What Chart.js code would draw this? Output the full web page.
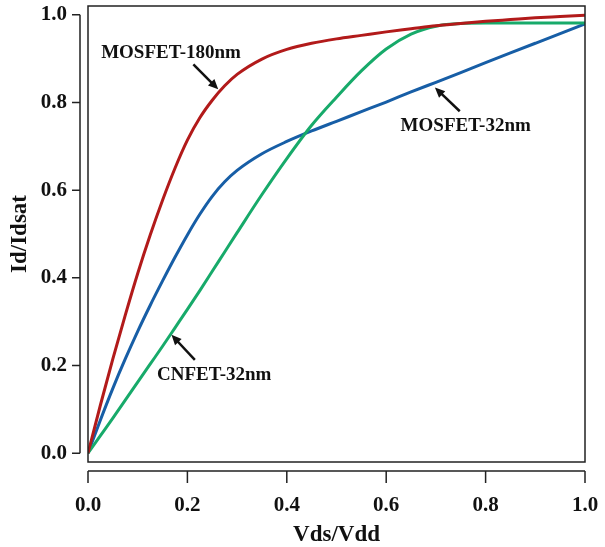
<!DOCTYPE html>
<html>
<head>
<meta charset="utf-8">
<script src="https://cdn.jsdelivr.net/npm/chart.js@4.4.1/dist/chart.umd.min.js"></script>
<style>
  body { margin: 0; background: #fff; }
  canvas { display: block; }
</style>
</head>
<body>
<canvas id="ivChart" width="605" height="547"></canvas>
<script>
// Vds/Vdd sample points and normalised drain current for each device
const vds = [0, 0.025, 0.05, 0.075, 0.1, 0.125, 0.15, 0.175, 0.2, 0.225, 0.25, 0.275, 0.3,
             0.35, 0.4, 0.45, 0.5, 0.55, 0.6, 0.65, 0.7, 0.75, 0.8, 0.85, 0.9, 0.95, 1.0];
const mosfet180 = [0, 0.110, 0.215, 0.315, 0.410, 0.497, 0.577, 0.650, 0.714, 0.765, 0.805, 0.838, 0.864,
                   0.899, 0.921, 0.935, 0.945, 0.953, 0.961, 0.968, 0.975, 0.980, 0.985, 0.989, 0.993, 0.996, 0.999];
const mosfet32 = [0, 0.076, 0.148, 0.215, 0.278, 0.337, 0.393, 0.447, 0.498, 0.545, 0.586, 0.619, 0.645,
                  0.683, 0.711, 0.735, 0.757, 0.779, 0.801, 0.824, 0.846, 0.868, 0.891, 0.913, 0.935, 0.957, 0.979];
const cnfet32 = [0, 0.040, 0.080, 0.121, 0.162, 0.203, 0.244, 0.286, 0.328, 0.371, 0.415, 0.459, 0.503,
                 0.590, 0.672, 0.748, 0.812, 0.872, 0.922, 0.956, 0.974, 0.980, 0.981, 0.981, 0.981, 0.981, 0.981];
const xTicks = [0, 0.2, 0.4, 0.6, 0.8, 1.0];
const yTicks = [0, 0.2, 0.4, 0.6, 0.8, 1.0];

const serif = "'Liberation Serif', 'Times New Roman', serif";

function pts(ys) {
    return vds.map((x, i) => ({ x: x, y: ys[i] }));
}

// labels with arrows, in data units
const notes = [
    { text: 'MOSFET-180nm', x: 0.167, y: 0.902, from: [0.212, 0.887], to: [0.262, 0.830] },
    { text: 'MOSFET-32nm', x: 0.760, y: 0.735, from: [0.748, 0.780], to: [0.698, 0.834] },
    { text: 'CNFET-32nm', x: 0.254, y: 0.167, from: [0.215, 0.213], to: [0.168, 0.270] }
];

// R-style frame: box round the plot plus detached axes with outward ticks
const frame = {
    id: 'frame',
    afterDraw(chart) {
        const ctx = chart.ctx;
        const a = chart.chartArea;
        const xs = chart.scales.x, ys = chart.scales.y;
        ctx.save();
        ctx.strokeStyle = '#222';
        ctx.lineWidth = 1.5;
        ctx.strokeRect(a.left, a.top, a.right - a.left, a.bottom - a.top);

        const ax = a.left - 8;
        ctx.beginPath();
        ctx.moveTo(ax, ys.getPixelForValue(yTicks[0]));
        ctx.lineTo(ax, ys.getPixelForValue(yTicks[yTicks.length - 1]));
        yTicks.forEach(v => {
            const p = ys.getPixelForValue(v);
            ctx.moveTo(ax, p);
            ctx.lineTo(ax - 8, p);
        });
        const ay = a.bottom + 9;
        ctx.moveTo(xs.getPixelForValue(xTicks[0]), ay);
        ctx.lineTo(xs.getPixelForValue(xTicks[xTicks.length - 1]), ay);
        xTicks.forEach(v => {
            const p = xs.getPixelForValue(v);
            ctx.moveTo(p, ay);
            ctx.lineTo(p, ay + 12);
        });
        ctx.stroke();

        // annotations
        ctx.fillStyle = '#111';
        ctx.strokeStyle = '#111';
        ctx.font = 'bold 19px ' + serif;
        ctx.textAlign = 'center';
        ctx.textBaseline = 'alphabetic';
        notes.forEach(n => {
            ctx.fillText(n.text, xs.getPixelForValue(n.x), ys.getPixelForValue(n.y));
            const x0 = xs.getPixelForValue(n.from[0]), y0 = ys.getPixelForValue(n.from[1]);
            const x1 = xs.getPixelForValue(n.to[0]), y1 = ys.getPixelForValue(n.to[1]);
            const ang = Math.atan2(y1 - y0, x1 - x0);
            ctx.lineWidth = 2.5;
            ctx.beginPath();
            ctx.moveTo(x0, y0);
            ctx.lineTo(x1 - 6 * Math.cos(ang), y1 - 6 * Math.sin(ang));
            ctx.stroke();
            ctx.beginPath();
            ctx.moveTo(x1, y1);
            ctx.lineTo(x1 - 10 * Math.cos(ang) + 4.5 * Math.sin(ang), y1 - 10 * Math.sin(ang) - 4.5 * Math.cos(ang));
            ctx.lineTo(x1 - 10 * Math.cos(ang) - 4.5 * Math.sin(ang), y1 - 10 * Math.sin(ang) + 4.5 * Math.cos(ang));
            ctx.closePath();
            ctx.fill();
        });
        ctx.restore();
    }
};

const line = (label, ys, color) => ({
    label: label,
    data: pts(ys),
    borderColor: color,
    borderWidth: 3,
    pointRadius: 0,
    fill: false,
    cubicInterpolationMode: 'monotone'
});

new Chart(document.getElementById('ivChart'), {
    type: 'line',
    data: {
        datasets: [
            line('MOSFET-180nm', mosfet180, '#b21a1a'),
            line('CNFET-32nm', cnfet32, '#17aa6a'),
            line('MOSFET-32nm', mosfet32, '#175ea6')
        ]
    },
    options: {
        responsive: false,
        animation: false,
        layout: { padding: { top: 6, right: 20, left: 0, bottom: 0 } },
        plugins: { legend: { display: false }, tooltip: { enabled: false } },
        scales: {
            x: {
                type: 'linear',
                min: 0,
                max: 1,
                afterFit(s) {
                    s.height = 85;
                    s.paddingLeft = 0;
                    s.paddingRight = 0;
                },
                afterBuildTicks(s) { s.ticks = xTicks.map(v => ({ value: v })); },
                grid: { display: false },
                border: { display: false },
                ticks: {
                    padding: 23,
                    color: '#111',
                    font: { family: serif, size: 21, weight: 'bold' },
                    maxRotation: 0,
                    callback: v => v.toFixed(1)
                },
                title: {
                    display: true,
                    text: 'Vds/Vdd',
                    color: '#111',
                    padding: { top: 0, bottom: -2 },
                    font: { family: serif, size: 23, weight: 'bold' }
                }
            },
            y: {
                type: 'linear',
                min: -0.02,
                max: 1.02,
                afterFit(s) {
                    s.width = 88;
                    s.paddingTop = 0;
                    s.paddingBottom = 0;
                },
                afterBuildTicks(s) { s.ticks = yTicks.map(v => ({ value: v })); },
                grid: { display: false },
                border: { display: false },
                ticks: {
                    padding: 13,
                    color: '#111',
                    font: { family: serif, size: 21, weight: 'bold' },
                    callback: v => v.toFixed(1)
                },
                title: {
                    display: true,
                    text: 'Id/Idsat',
                    color: '#111',
                    padding: { top: 6, bottom: 0 },
                    font: { family: serif, size: 23, weight: 'bold' }
                }
            }
        }
    },
    plugins: [frame]
});
</script>
</body>
</html>
